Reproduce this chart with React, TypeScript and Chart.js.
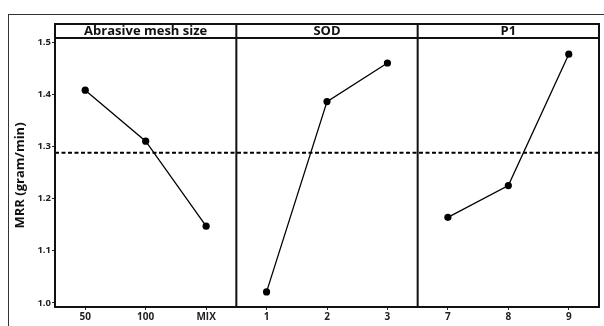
import React, { useEffect, useRef } from "react";
import { Chart, registerables } from "chart.js";

Chart.register(...registerables);

const factorNames = ["Abrasive mesh size", "SOD", "P1"];
const meshLabels = ["50", "100", "MIX"];
const meshMRR = [1.408, 1.31, 1.147];
const sodLabels = ["1", "2", "3"];
const sodMRR = [1.021, 1.386, 1.46];
const p1Labels = ["7", "8", "9"];
const p1MRR = [1.164, 1.225, 1.477];
const yTicks = [1.0, 1.1, 1.2, 1.3, 1.4, 1.5];
const grandMean = 1.288;
const yTitle = "MRR (gram/min)";

const groups = [meshLabels, sodLabels, p1Labels];
const groupValues = [meshMRR, sodMRR, p1MRR];
const allLabels = groups.flat();

const FONT = "'Open Sans', 'Noto Sans', sans-serif";

export default function App() {
  const ref = useRef<HTMLCanvasElement | null>(null);

  useEffect(() => {
    if (!ref.current) return;
    const seriesDatasets = groupValues.map((vals, g) => ({
      label: factorNames[g],
      data: vals.map((v, i) => ({ x: g * 3 + i, y: v })),
      borderColor: "#000",
      backgroundColor: "#000",
      borderWidth: 1.3,
      pointRadius: 3.6,
      pointBackgroundColor: "#000",
      pointBorderWidth: 0,
      tension: 0,
    }));
    const meanDataset = {
      label: "mean",
      data: [
        { x: -0.5, y: grandMean },
        { x: allLabels.length - 0.5, y: grandMean },
      ],
      borderColor: "#000",
      borderWidth: 2,
      borderDash: [4, 2.5],
      pointRadius: 0,
      tension: 0,
    };

    const framePlugin = {
      id: "framePlugin",
      beforeDraw(chart: any) {
        const ctx = chart.ctx;
        ctx.save();
        ctx.fillStyle = "#fff";
        ctx.fillRect(0, 0, chart.width, chart.height);
        ctx.strokeStyle = "#333";
        ctx.lineWidth = 1;
        ctx.strokeRect(8.5, 14.5, 700, 400);
        ctx.restore();
      },
      afterDraw(chart: any) {
        const ctx = chart.ctx;
        const a = chart.chartArea;
        const xs = chart.scales.x;
        const headerTop = 24;
        ctx.save();
        ctx.strokeStyle = "#111";
        ctx.lineWidth = 2;
        ctx.strokeRect(a.left, headerTop, a.right - a.left, a.bottom - headerTop);
        ctx.beginPath();
        ctx.moveTo(a.left, a.top);
        ctx.lineTo(a.right, a.top);
        for (let g = 1; g < groups.length; g++) {
          const px = xs.getPixelForValue(g * 3 - 0.5);
          ctx.moveTo(px, headerTop);
          ctx.lineTo(px, a.bottom);
        }
        ctx.stroke();
        ctx.fillStyle = "#111";
        ctx.font = `bold 13px ${FONT}`;
        ctx.textAlign = "center";
        ctx.textBaseline = "middle";
        for (let g = 0; g < groups.length; g++) {
          const l = xs.getPixelForValue(g * 3 - 0.5);
          const r = xs.getPixelForValue(g * 3 + 2.5);
          ctx.fillText(factorNames[g], (l + r) / 2, (headerTop + a.top) / 2 + 0.5);
        }
        ctx.translate(20, (a.top + a.bottom) / 2 + 3);
        ctx.rotate(-Math.PI / 2);
        ctx.font = `bold 13px ${FONT}`;
        ctx.fillText(yTitle, 0, 0);
        ctx.restore();
      },
    };

    const chart = new Chart(ref.current, {
      type: "line",
      data: { datasets: [meanDataset as any, ...seriesDatasets] },
      options: {
        animation: false,
        responsive: false,
        maintainAspectRatio: false,
        layout: { padding: { top: 38, right: 5, left: 0, bottom: 0 } },
        plugins: { legend: { display: false }, tooltip: { enabled: false } },
        scales: {
          x: {
            type: "linear",
            min: -0.5,
            max: allLabels.length - 0.5,
            afterBuildTicks: (s: any) => {
              s.ticks = allLabels.map((_, i) => ({ value: i }));
            },
            afterFit: (s: any) => {
              s.height = 19;
            },
            ticks: {
              callback: (v: any) => allLabels[Math.round(Number(v))] ?? "",
              color: "#222",
              font: { family: FONT, size: 10, weight: "bold" },
              padding: 1,
              maxRotation: 0,
              autoSkip: false,
            },
            grid: { display: true, drawOnChartArea: false, drawTicks: true, tickLength: 3, color: "#222", lineWidth: 1 },
            border: { display: false },
          },
          y: {
            type: "linear",
            min: 0.992,
            max: 1.508,
            afterBuildTicks: (s: any) => {
              s.ticks = yTicks.map((v) => ({ value: v }));
            },
            afterFit: (s: any) => {
              s.width = 55;
            },
            ticks: {
              callback: (v: any) => Number(v).toFixed(1),
              color: "#222",
              font: { family: FONT, size: 9.5, weight: "bold" },
              padding: 1,
            },
            grid: { display: true, drawOnChartArea: false, drawTicks: true, tickLength: 3, color: "#222", lineWidth: 1 },
            border: { display: false },
          },
        },
      },
      plugins: [framePlugin],
    });
    return () => chart.destroy();
  }, []);

  return (
    <div style={{ position: "fixed", left: 0, top: 0, width: 604, height: 326, background: "#fff" }}>
      <canvas ref={ref} width={604} height={326} style={{ width: 604, height: 326 }} />
    </div>
  );
}
